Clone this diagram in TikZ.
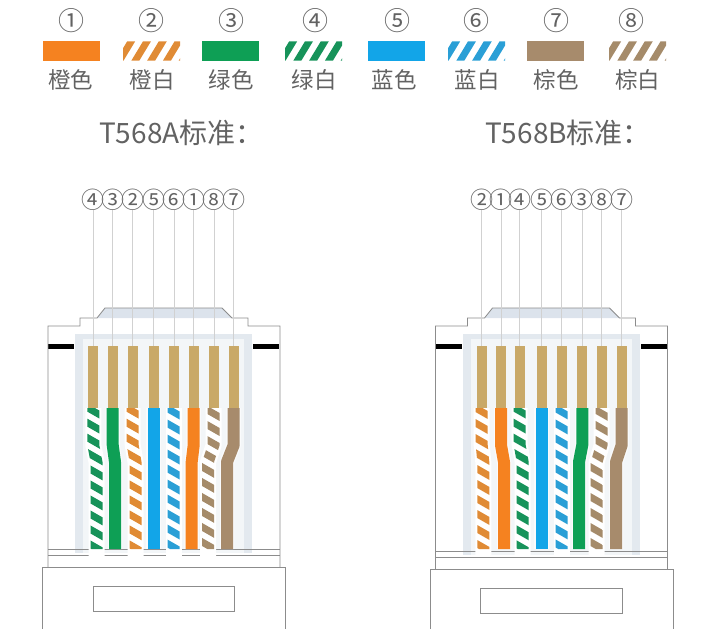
\documentclass[tikz,border=0pt]{standalone}
\usepackage{amsmath}
\usepackage{fontspec}
\setmainfont{Noto Sans CJK SC}
\usepackage{tikz}

\definecolor{solidorange}{HTML}{F58220}
\definecolor{solidgreen}{HTML}{0E9F55}
\definecolor{solidblue}{HTML}{12A5E8}
\definecolor{solidbrown}{HTML}{A78B6C}
\definecolor{striporange}{HTML}{E08B35}
\definecolor{stripgreen}{HTML}{17935A}
\definecolor{stripblue}{HTML}{2A9FD6}
\definecolor{stripbrown}{HTML}{A58B6A}
\definecolor{pingold}{HTML}{C9A968}
\definecolor{labelgrey}{HTML}{626262}
\definecolor{shellgrey}{HTML}{8C8C8C}
\definecolor{panelband}{HTML}{E3E9EF}
\definecolor{panelinner}{HTML}{F3F6F8}
\definecolor{roofgrey}{HTML}{DCE3EC}

\tikzset{
    swatch/.style={rectangle, minimum width=57pt, minimum height=19.5pt, inner sep=0pt, fill=#1},
    num/.style={inner sep=0pt, text=labelgrey, font=\fontsize{26}{28}\selectfont},
    smallnum/.style={inner sep=0pt, text=labelgrey, font=\fontsize{23}{25}\selectfont},
    colourname/.style={inner sep=0pt, text=labelgrey, font=\fontsize{22.5}{24}\selectfont},
    standard/.style={inner sep=0pt, anchor=west, text=labelgrey, font=\fontsize{28}{30}\selectfont},
    pinbar/.style={rectangle, minimum width=10pt, minimum height=62pt, inner sep=0pt, fill=pingold},
    lead/.style={draw=black!18, line width=0.6pt},
    shell/.style={draw=shellgrey, line width=0.8pt},
    wirehalo/.style={draw=white, line width=16pt, line join=round},
    solidhalo/.style={draw=white, opacity=0.6, line width=14.5pt, line join=round}
}

\newcommand{\hatchswatch}[2]{
    \begin{scope}
        \clip (#1,41.3) rectangle (#1+57,60.7);
        \foreach \k in {-1,...,3}
            \fill[#2] (#1+8.3+15.8*\k,60.7) -- (#1+16.3+15.8*\k,60.7) -- (#1+28*1+15.8*\k,41.3) -- (#1+20*1+15.8*\k,41.3) -- cycle;
    \end{scope}
}

\newcommand{\solidwire}[3]{
    \draw[solidhalo] (#1,408) -- (#1,445) -- (#2,462) -- (#2,549);
    \draw[draw=#3, line width=12pt, line join=round] (#1,408) -- (#1,445) -- (#2,462) -- (#2,549);
}

\newcommand{\stripewire}[3]{
    \draw[wirehalo] (#1,408) -- (#1,445) -- (#2,462) -- (#2,556);
    \begin{scope}
        \clip (#1-6,408) -- (#1+6,408) -- (#1+6,445) -- (#2+6,462) -- (#2+6,549) -- (#2-6,549) -- (#2-6,462) -- (#1-6,445) -- cycle;
        \foreach \k in {0,...,9}
            \fill[#3] ({(#1+#2)/2-14},400+15*\k) -- ({(#1+#2)/2+14},416+15*\k) -- ({(#1+#2)/2+14},424+15*\k) -- ({(#1+#2)/2-14},408+15*\k) -- cycle;
    \end{scope}
}

\newcommand{\plugbody}[1]{
    \fill[roofgrey] (97,318) -- (105,308) -- (222,308) -- (232,318) -- cycle;
    \fill[panelband] (75,334) rectangle (252,553+#1);
    \fill[panelinner] (83,339) rectangle (244,553+#1);
    \fill[black] (48,344) rectangle (74,349);
    \fill[black] (253,344) rectangle (279,349);
    \draw[shell] (48,567+#1) -- (48,326) -- (80,326) -- (80,318) -- (97,318) -- (105,308) -- (222,308) -- (232,318) -- (248,318) -- (248,326) -- (280,326) -- (280,567+#1);
    \draw[shell] (48,549+#1) -- (280,549+#1);
    \draw[shell] (48,555+#1) -- (280,555+#1);
    \draw[shell] (42.7,630) -- (42.7,567+#1) -- (285.7,567+#1) -- (285.7,630);
    \draw[shell] (93,586+#1) rectangle (234.5,611+#1);
}

\begin{document}
\begin{tikzpicture}[x=1pt, y=-1pt]
    \useasboundingbox (0,0) rectangle (723,629);

    % colour key
    \node[num] (k1) at (71,20.5) {①};
    \node[num] (k2) at (151.7,20.5) {②};
    \node[num] (k3) at (231,20.5) {③};
    \node[num] (k4) at (315.7,20.5) {④};
    \node[num] (k5) at (397.3,20.5) {⑤};
    \node[num] (k6) at (476.7,20.5) {⑥};
    \node[num] (k7) at (556.7,20.5) {⑦};
    \node[num] (k8) at (631.7,20.5) {⑧};

    \node[swatch=solidorange] (s1) at (71,51) {};
    \hatchswatch{123}{striporange}
    \node[swatch=solidgreen] (s3) at (230.8,51) {};
    \hatchswatch{285}{stripgreen}
    \node[swatch=solidblue] (s5) at (396.5,51) {};
    \hatchswatch{448}{stripblue}
    \node[swatch=solidbrown] (s7) at (555.5,51) {};
    \hatchswatch{609}{stripbrown}

    \node[colourname] (c1) at (70.7,79.5) {橙色};
    \node[colourname] (c2) at (152.3,79.5) {橙白};
    \node[colourname] (c3) at (231,79.5) {绿色};
    \node[colourname] (c4) at (314,79.5) {绿白};
    \node[colourname] (c5) at (394,79.5) {蓝色};
    \node[colourname] (c6) at (477,79.5) {蓝白};
    \node[colourname] (c7) at (556,79.5) {棕色};
    \node[colourname] (c8) at (637.7,79.5) {棕白};

    \node[standard] (ta) at (99,132.5) {T568A标准：};
    \node[standard] (tb) at (485,132.5) {T568B标准：};

    % plug bodies
    \plugbody{0}
    \begin{scope}[xshift=387.5pt]
        \plugbody{2}
    \end{scope}

    % T568A
    \foreach \x/\n [count=\i] in {93.3/④,112.7/③,132.7/②,153.7/⑤,174/⑥,193.7/①,214/⑧,233.7/⑦} {
        \node[smallnum] (an\i) at (\x,199.5) {\n};
        \node[pinbar] (ap\i) at (\x,377) {};
        \draw[lead] (an\i) -- (ap\i.north);
    }
    \stripewire{93.3}{96.5}{stripgreen}
    \solidwire{112.7}{115}{solidgreen}
    \stripewire{132.7}{135.5}{striporange}
    \solidwire{153.7}{153.7}{solidblue}
    \stripewire{173.5}{173.5}{stripblue}
    \solidwire{193.7}{191.7}{solidorange}
    \stripewire{213.7}{208}{stripbrown}
    \solidwire{233.7}{227}{solidbrown}

    % T568B
    \foreach \x/\n [count=\i] in {481.7/②,501/①,519.7/④,541.7/⑤,561.7/⑥,582.3/③,601.7/⑧,621.7/⑦} {
        \node[smallnum] (bn\i) at (\x,199.5) {\n};
        \node[pinbar] (bp\i) at (\x,377) {};
        \draw[lead] (bn\i) -- (bp\i.north);
    }
    \stripewire{481.7}{483.3}{striporange}
    \solidwire{501}{504}{solidorange}
    \stripewire{519.7}{522.7}{stripgreen}
    \solidwire{541.7}{541.7}{solidblue}
    \stripewire{561.7}{561.7}{stripblue}
    \solidwire{582.3}{579}{solidgreen}
    \stripewire{601.7}{596.7}{stripbrown}
    \solidwire{621.7}{616}{solidbrown}
\end{tikzpicture}
\end{document}
